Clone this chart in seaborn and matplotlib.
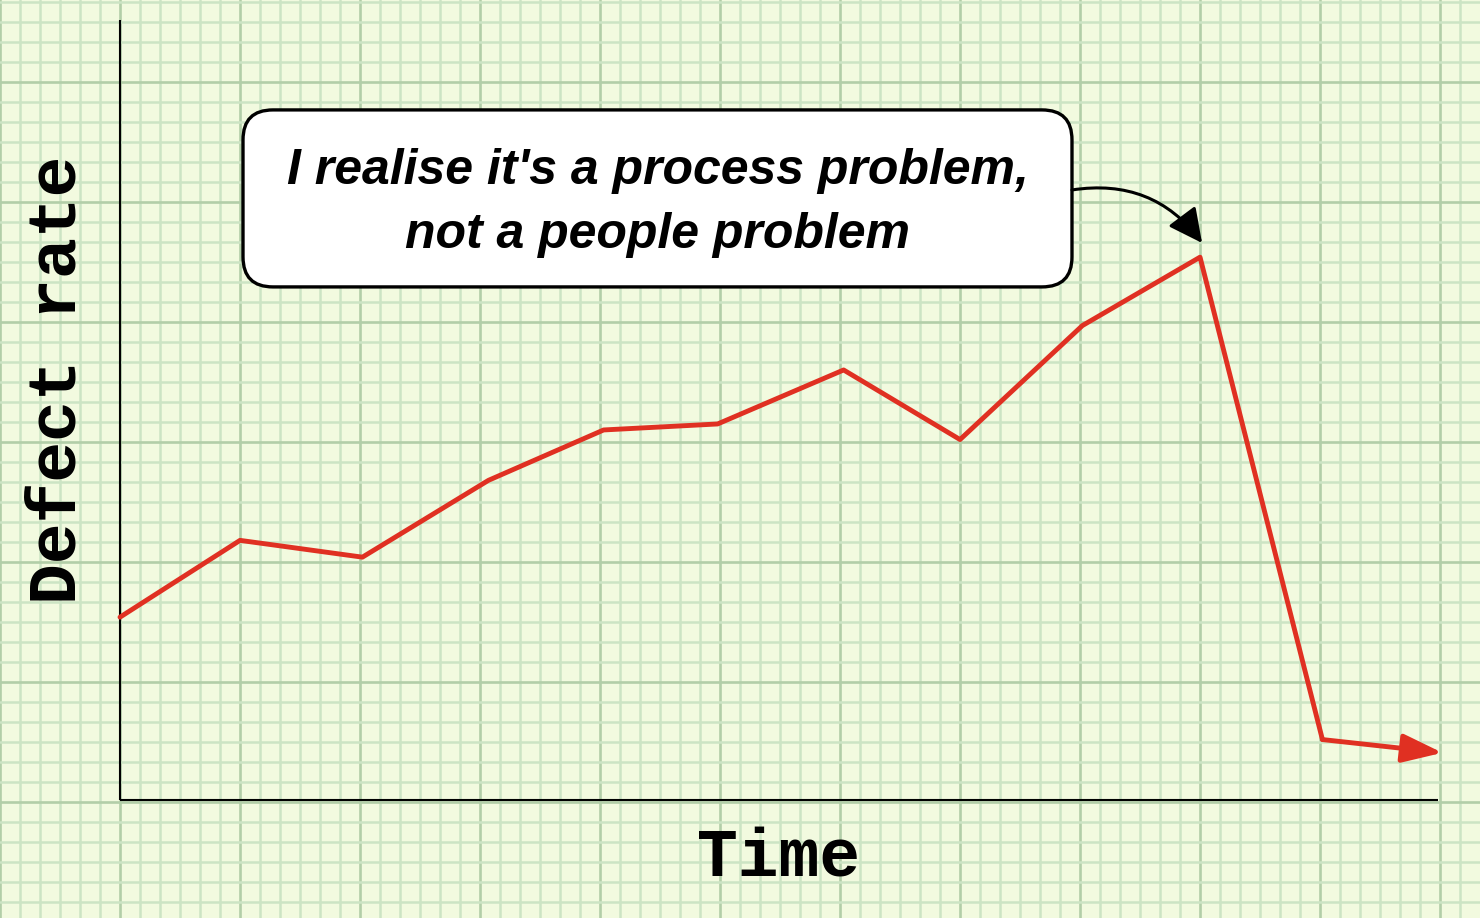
import matplotlib
matplotlib.use("Agg")
import matplotlib.pyplot as plt
from matplotlib.ticker import MultipleLocator
from matplotlib.patches import FancyBboxPatch
import seaborn as sns
import pandas as pd

# time steps and defect rate (grid units)
time = [0, 1.0, 2.02, 3.07, 4.03, 4.98, 6.03, 7.0, 8.02, 9.0, 10.02]
defect = [1.54, 2.18, 2.04, 2.68, 3.10, 3.15, 3.60, 3.02, 3.97, 4.54, 0.52]
# where the trailing arrow ends
end_time = 11.02
end_defect = 0.41

callout = "I realise it's a process problem,\nnot a people problem"
xlabel = "Time"
ylabel = "Defect rate"

paper = "#F2FADF"
minor_col = "#CCE4C4"
major_col = "#B2CEA8"
red = "#E03022"

sns.set_style("white")
plt.rcParams["text.color"] = "black"

df = pd.DataFrame({"time": time, "defect": defect})

fig = plt.figure(figsize=(14.8, 9.18), dpi=100, facecolor=paper)
ax = fig.add_axes([0, 0, 1, 1])
ax.set_facecolor(paper)

ax.set_xlim(-1, 11.333)
ax.set_ylim(-0.967, 6.683)

# graph paper
ax.xaxis.set_major_locator(MultipleLocator(1))
ax.yaxis.set_major_locator(MultipleLocator(1))
ax.xaxis.set_minor_locator(MultipleLocator(1 / 6))
ax.yaxis.set_minor_locator(MultipleLocator(1 / 6))
ax.grid(which="minor", color=minor_col, lw=1.8)
ax.grid(which="major", color=major_col, lw=1.9)
ax.set_axisbelow(True)
ax.tick_params(which="both", length=0, labelbottom=False, labelleft=False)
for s in ax.spines.values():
    s.set_visible(False)

# hand drawn axes
ax.plot([0, 0], [0.017, 6.517], color="black", lw=1.5, solid_capstyle="butt")
ax.plot([0, 10.983], [0.017, 0.017], color="black", lw=1.5, solid_capstyle="butt")

sns.lineplot(data=df, x="time", y="defect", color=red, lw=3.5, ax=ax,
             sort=False, legend=False)

ax.annotate("", xy=(end_time, end_defect), xytext=(time[-1], defect[-1]),
            arrowprops=dict(arrowstyle="-|>,head_length=0.7,head_width=0.25",
                            mutation_scale=35, color=red, lw=3.5,
                            shrinkA=0, shrinkB=0))

ax.set_xlabel("")
ax.set_ylabel("")
ax.text(5.49, -0.467, xlabel, ha="center", va="center", fontsize=49,
        family="Liberation Mono", weight="bold", color="black")
ax.text(-0.52, 3.517, ylabel, ha="center", va="center", fontsize=49,
        family="Liberation Mono", weight="bold", rotation=90, color="black")

# callout box
box = FancyBboxPatch((1.025, 4.292), 6.908, 1.475,
                     boxstyle="round,pad=0,rounding_size=0.25",
                     fc="white", ec="black", lw=2.4, zorder=5)
ax.add_patch(box)
ax.text(4.479, 4.995, callout, ha="center", va="center", fontsize=36,
        family="Liberation Sans", style="italic", weight="bold",
        linespacing=1.5, color="black", zorder=6)

ax.annotate("", xy=(9.017, 4.658), xytext=(7.933, 5.1),
            arrowprops=dict(arrowstyle="-|>,head_length=0.8,head_width=0.4",
                            mutation_scale=26, color="black", lw=2.2,
                            connectionstyle="arc3,rad=-0.3",
                            shrinkA=0, shrinkB=0), zorder=6)

fig.savefig("out.png", dpi=100, facecolor=paper)
